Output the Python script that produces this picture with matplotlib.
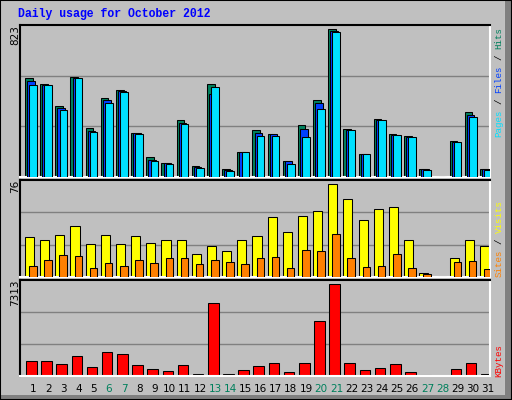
import matplotlib
matplotlib.use("Agg")
import matplotlib.pyplot as plt
from matplotlib.patches import Rectangle
import numpy as np

days = list(range(1, 32))
hits =  [536,503,383,541,263,427,471,236,107,78,309,58,503,45,138,254,231,89,280,416,803,260,127,314,231,220,42,0,193,351,45]
files = [521,500,376,536,249,416,467,236,94,74,294,55,451,36,134,236,231,84,258,400,790,256,124,310,228,217,41,0,190,333,42]
pages = [498,498,363,536,242,400,460,231,84,73,285,51,487,35,133,222,220,69,214,367,787,253,122,307,225,214,40,0,187,323,40]
visits = [31,28.6,33,40,26,33,26,32,27,28.6,28.6,18,24.6,20.7,29,32,47,35,48,52,72.6,61,45,53,54.5,28.6,3.4,0,15,28.6,24]
sites = [8.4,13.6,17.6,16.8,7.3,11,8.4,13.6,11,15,15,10.5,13.6,12,10.5,15,16,7.3,21.5,20,34,15,8,9,18,7.3,2.6,0,12,12.8,6.5]
kbytes = [1172,1172,943,1554,713,1860,1707,866,560,408,866,178,5530,178,484,790,1019,331,1019,4153,6982,1019,484,637,943,331,100,0,560,1019,178]
weekend = [6,7,13,14,20,21,27,28]
max_top, max_mid, max_bot = 823, 76, 7313

W, H = 512, 400
fig = plt.figure(figsize=(W/100, H/100), dpi=100)
fig.patch.set_facecolor("#C0C0C0")
mono = "Liberation Mono"

def fx(px): return px / W
def fy(py): return 1 - py / H

fig.add_artist(Rectangle((0, 0), fx(506), 1, transform=fig.transFigure, fill=False, ec="white", lw=1.5))
fig.add_artist(Rectangle((fx(505), 0), fx(7), 1, transform=fig.transFigure, fc="#808080", ec="none"))
fig.add_artist(Rectangle((0, 0), 1, 5/H, transform=fig.transFigure, fc="#808080", ec="none"))
fig.add_artist(Rectangle((0, 0), 1, 1, transform=fig.transFigure, fill=False, ec="black", lw=1.5))

fig.text(fx(18), fy(14), "Daily usage for October 2012", color="#0000FF", fontweight="bold",
         family=mono, fontsize=8.3, va="center", ha="left")

x = np.array(days) - 1.0
lw = 0.75

def mkax(top, bot, ymax):
    ax = fig.add_axes([fx(20), fy(bot), fx(470), (bot - top) / H])
    ax.set_facecolor("#C0C0C0")
    ax.set_xlim(0, 31)
    ax.set_ylim(0, ymax)
    ax.set_xticks([]); ax.set_yticks([])
    for y in (ymax / 3, 2 * ymax / 3):
        ax.axhline(y, color="#808080", lw=1, zorder=0)
    ax.spines["top"].set_color("black"); ax.spines["left"].set_color("black")
    ax.spines["right"].set_color("white"); ax.spines["bottom"].set_color("white")
    for s in ax.spines.values(): s.set_linewidth(1.5)
    return ax

ax1 = mkax(25, 177, max_top)
ax1.bar(x + 0.33, hits, 0.5, align="edge", color="#00805C", ec="black", lw=lw, zorder=2)
ax1.bar(x + 0.47, files, 0.5, align="edge", color="#0040FF", ec="black", lw=lw, zorder=3)
ax1.bar(x + 0.61, pages, 0.5, align="edge", color="#00E0FF", ec="black", lw=lw, zorder=4)

ax2 = mkax(180, 277, max_mid)
ax2.bar(x + 0.33, visits, 0.6, align="edge", color="#FFFF00", ec="black", lw=lw, zorder=2)
ax2.bar(x + 0.6, sites, 0.5, align="edge", color="#FF8000", ec="black", lw=lw, zorder=3)

ax3 = mkax(280, 376, max_bot)
ax3.bar(x + 0.4, kbytes, 0.7, align="edge", color="#FF0000", ec="black", lw=lw, zorder=2)

for d in days:
    fig.text(fx(20 + (d - 1 + 0.87) * 470 / 31), fy(389), str(d), ha="center", va="center",
             family="DejaVu Sans", fontsize=7.5, color="#00805C" if d in weekend else "black")

for val, top in ((max_top, 25), (max_mid, 180), (max_bot, 280)):
    fig.text(fx(15), fy(top), str(val), rotation=90, ha="center", va="top",
             family="DejaVu Sans", fontsize=7.5, color="black")

def vlabel(parts, bottom):
    y = bottom
    cw = 5.5
    for txt, col in parts:
        s = txt.strip()
        lead = len(txt) - len(txt.lstrip())
        fig.text(fx(499), fy(y - lead * cw), s, rotation=90, ha="center", va="bottom",
                 family=mono, fontsize=6.6, color=col)
        y -= cw * len(txt)

vlabel([("Pages", "#00E0FF"), (" / ", "black"), ("Files", "#0040FF"), (" / ", "black"), ("Hits", "#00805C")], 137)
vlabel([("Sites", "#FF8000"), (" / ", "black"), ("Visits", "#FFFF00")], 277)
vlabel([("KBytes", "#FF0000")], 377)

fig.savefig("out.png", dpi=100, facecolor=fig.get_facecolor())
